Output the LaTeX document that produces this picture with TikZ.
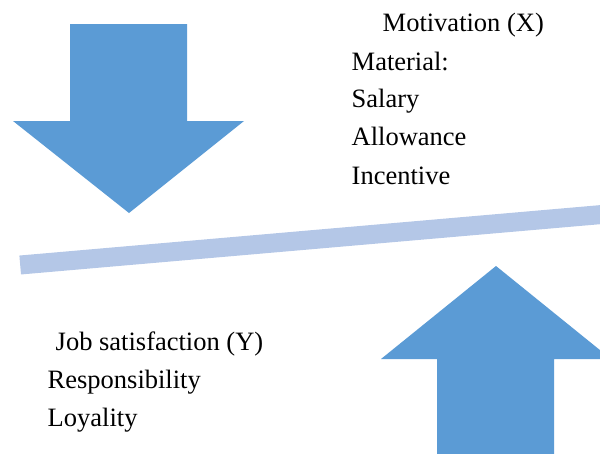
\documentclass[tikz,border=0pt]{standalone}
\usepackage{fontspec}
\setmainfont{Liberation Serif}
\newfontfamily\timesfont{Liberation Serif}
\definecolor{arrowblue}{HTML}{5B9BD5}
\definecolor{barblue}{HTML}{B4C7E7}
\begin{document}
\begin{tikzpicture}[x=1pt,y=-1pt,
  lbl/.style={anchor=base west, inner sep=0pt, font=\timesfont\fontsize{26.5}{32}\selectfont},
  blockarrow/.style={fill=arrowblue, draw=none},
  balancebar/.style={draw=barblue, line width=19pt}]
\useasboundingbox (0,0) rectangle (600,453);
\begin{scope}
\clip (0,0) rectangle (600,453);
\fill[blockarrow] (70,24) -- (187,24) -- (187,121) -- (244,121) -- (129,213) -- (13,121) -- (70,121) -- cycle;
\coordinate (barL) at (20.2,265);
\coordinate (barR) at (610,213.8);
\draw[balancebar] (barL) -- (barR);
\fill[blockarrow] (437,460) -- (437,359) -- (381,359) -- (496,266) -- (611,359) -- (554,359) -- (554,460) -- cycle;
\end{scope}
\node[lbl] (mot) at (382.5,31.7) {Motivation (X)};
\node[lbl] (mat) at (351.5,70) {Material:};
\node[lbl] (sal) at (351.5,107.5) {Salary};
\node[lbl] (all) at (351.5,145.5) {Allowance};
\node[lbl] (inc) at (351.5,184) {Incentive};
\node[lbl] (job) at (55.5,350.7) {Job satisfaction (Y)};
\node[lbl] (res) at (47.5,388.3) {Responsibility};
\node[lbl] (loy) at (47.5,426.7) {Loyality};
\end{tikzpicture}
\end{document}
